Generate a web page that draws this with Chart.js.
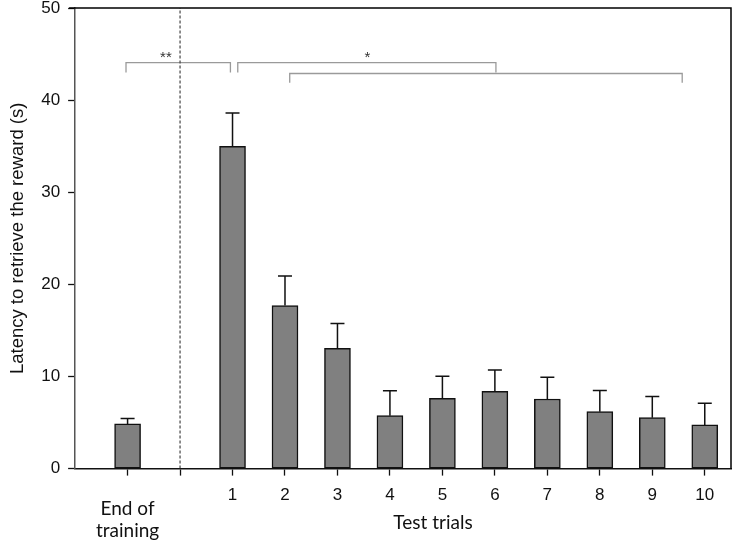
<!DOCTYPE html>
<html>
<head>
<meta charset="utf-8">
<script src="https://cdn.jsdelivr.net/npm/chart.js@4"></script>
<style>
  body { margin: 0; background: #fff; }
  #wrap { width: 732px; height: 543px; }
</style>
</head>
<body>
<div id="wrap"><canvas id="canvas"></canvas></div>
<script>
// x positions: -1 = end of training, 1..10 = test trials
var trialX = [-1, 1, 2, 3, 4, 5, 6, 7, 8, 9, 10];
var latency = [4.85, 35.0, 17.7, 13.05, 5.75, 7.63, 8.4, 7.56, 6.18, 5.53, 4.74];
var sem = [0.6, 3.6, 3.2, 2.7, 2.7, 2.4, 2.3, 2.35, 2.3, 2.3, 2.35];
var xTicks = [-1, 0, 1, 2, 3, 4, 5, 6, 7, 8, 9, 10];
var yTicks = [0, 10, 20, 30, 40, 50];

// dashed divider and significance brackets
var dividerLine = [{x: 0, y: 0}, {x: 0, y: 50}];
var bracketA = [{x: -1.03, y: 43.0}, {x: -1.03, y: 44.07}, {x: 0.96, y: 44.07}, {x: 0.96, y: 43.0}];
var bracketB = [{x: 1.1, y: 43.0}, {x: 1.1, y: 44.07}, {x: 6.02, y: 44.07}, {x: 6.02, y: 43.0}];
var bracketC = [{x: 2.09, y: 41.9}, {x: 2.09, y: 42.9}, {x: 9.57, y: 42.9}, {x: 9.57, y: 41.9}];
var starLabels = [{x: -0.27, y: 44.2, text: '**'}, {x: 3.57, y: 44.2, text: '*'}];

var barData = trialX.map(function (x, i) { return {x: x, y: latency[i]}; });

function bracket(pts, dash) {
    return {
        type: 'line',
        data: pts,
        borderColor: dash ? '#444' : '#9a9a9a',
        borderWidth: dash ? 1.2 : 1.3,
        borderDash: dash ? [3, 2] : [],
        pointRadius: 0,
        fill: false,
        tension: 0
    };
}

var extras = {
    id: 'extras',
    afterDatasetsDraw: function (chart) {
        var c = chart.ctx;
        var xs = chart.scales.x, ys = chart.scales.y;
        // error bars (upper only)
        c.save();
        c.strokeStyle = '#111';
        c.lineWidth = 1.5;
        trialX.forEach(function (x, i) {
            var px = xs.getPixelForValue(x);
            var y0 = ys.getPixelForValue(latency[i]);
            var y1 = ys.getPixelForValue(latency[i] + sem[i]);
            c.beginPath();
            c.moveTo(px, y0);
            c.lineTo(px, y1);
            c.moveTo(px - 7, y1);
            c.lineTo(px + 7, y1);
            c.stroke();
        });
        // star labels
        c.fillStyle = '#333';
        c.font = '15px Arial';
        c.textAlign = 'center';
        c.textBaseline = 'alphabetic';
        starLabels.forEach(function (s) {
            c.fillText(s.text, xs.getPixelForValue(s.x), ys.getPixelForValue(s.y));
        });
        // frame top and right
        var a = chart.chartArea;
        c.strokeStyle = '#000';
        c.lineWidth = 1.5;
        c.beginPath();
        c.moveTo(a.left - 6, a.top);
        c.lineTo(a.right, a.top);
        c.lineTo(a.right, a.bottom);
        c.stroke();
        // category texts under the axis
        c.fillStyle = '#111';
        c.font = '19px Lato';
        c.textBaseline = 'middle';
        c.fillText('End of', xs.getPixelForValue(-1), 509);
        c.fillText('training', xs.getPixelForValue(-1), 531);
        c.fillText('Test trials', xs.getPixelForValue(4.82), 523);
        c.restore();
    }
};

const ctx = document.getElementById('canvas');
const myChart = new Chart(ctx, {
    type: 'bar',
    data: {
        datasets: [{
            label: 'latency',
            data: barData,
            backgroundColor: '#808080',
            borderColor: '#111',
            borderWidth: 1.5,
            borderSkipped: false,
            barThickness: 26
        },
        bracket(dividerLine, true),
        bracket(bracketA),
        bracket(bracketB),
        bracket(bracketC)]
    },
    options: {
        responsive: true,
        maintainAspectRatio: false,
        animation: false,
        layout: { padding: { left: 7, right: 1, top: 0, bottom: 27 } },
        plugins: { legend: { display: false }, tooltip: { enabled: false } },
        scales: {
            x: {
                type: 'linear',
                min: -2,
                max: 10.5,
                offset: false,
                afterBuildTicks: function (scale) {
                    scale.ticks = xTicks.map(function (v) { return {value: v}; });
                },
                ticks: {
                    autoSkip: false,
                    maxRotation: 0,
                    padding: 10,
                    color: '#111',
                    font: { family: 'Arial', size: 17 },
                    callback: function (v) { return v >= 1 ? v : ''; }
                },
                grid: { offset: false, drawOnChartArea: false, tickLength: 7, tickColor: '#111', tickWidth: 1.3 },
                border: { color: '#111', width: 1.5 }
            },
            y: {
                min: 0,
                max: 50,
                afterBuildTicks: function (scale) {
                    scale.ticks = yTicks.map(function (v) { return {value: v}; });
                },
                ticks: {
                    padding: 8,
                    autoSkip: false,
                    color: '#111',
                    font: { family: 'Arial', size: 17, lineHeight: 0.01 }
                },
                grid: { drawOnChartArea: false, tickLength: 7, tickColor: '#111', tickWidth: 1.3 },
                border: { color: '#555', width: 1.5 },
                title: {
                    display: true,
                    text: 'Latency to retrieve the reward (s)',
                    color: '#111',
                    font: { family: 'Arial', size: 18.5 },
                    padding: { top: 0, bottom: 4 }
                }
            }
        }
    },
    plugins: [extras]
});
</script>
</body>
</html>
